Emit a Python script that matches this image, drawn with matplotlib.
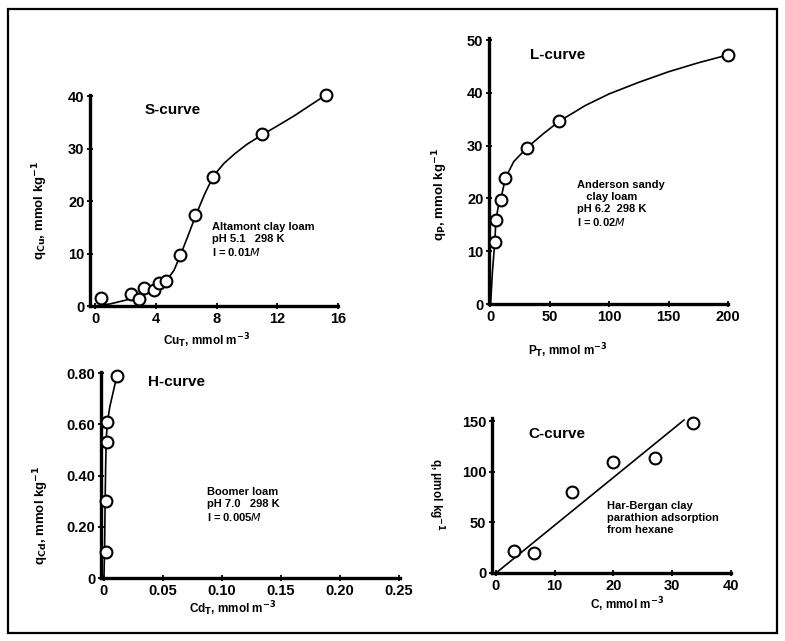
import matplotlib
matplotlib.use("Agg")
import matplotlib.pyplot as plt
from matplotlib.patches import Rectangle

plt.rcParams['font.family'] = ['Liberation Sans', 'DejaVu Sans']

# ---------------- data ----------------
# S-curve (Cu)
s_x = [0.4, 2.4, 2.9, 3.2, 3.9, 4.2, 4.7, 5.6, 6.6, 7.8, 11.0, 15.2]
s_y = [1.6, 2.2, 1.4, 3.5, 3.0, 4.3, 4.8, 9.7, 17.3, 24.6, 32.7, 40.2]
s_curve_x = [0.0, 1.0, 2.0, 3.0, 4.0, 4.7, 5.2, 5.6, 6.1, 6.6, 7.2, 7.8, 8.5, 9.2, 10.0, 11.0, 12.0, 13.1, 14.2, 15.2]
s_curve_y = [0.0, 0.4, 1.1, 2.0, 3.3, 4.8, 6.8, 9.5, 13.2, 17.0, 21.2, 24.8, 27.2, 29.0, 30.8, 32.6, 34.3, 36.2, 38.3, 40.2]

# L-curve (P)
l_x = [4, 5, 9, 13, 31, 58, 200]
l_y = [11.7, 16.0, 19.8, 23.9, 29.6, 34.6, 47.2]
l_curve_x = [0.5, 2, 4, 5, 7, 9, 13, 20, 31, 45, 58, 80, 100, 125, 150, 175, 200]
l_curve_y = [0.0, 6, 11.7, 16.0, 18.5, 19.8, 23.9, 27.0, 29.6, 32.3, 34.6, 37.6, 39.8, 42.0, 44.0, 45.7, 47.2]

# H-curve (Cd)
h_x = [0.002, 0.002, 0.003, 0.003, 0.011]
h_y = [0.10, 0.30, 0.53, 0.61, 0.79]
h_curve_x = [0.0, 0.0005, 0.001, 0.0015, 0.002, 0.003, 0.005, 0.008, 0.011]
h_curve_y = [0.0, 0.10, 0.30, 0.45, 0.55, 0.61, 0.67, 0.73, 0.79]

# C-curve (parathion)
c_x = [3.0, 6.5, 13.0, 20.0, 27.0, 33.5]
c_y = [22, 20, 80, 110, 114, 148]
c_line_x = [0.0, 32.0]
c_line_y = [0.0, 151.0]

W, H = 785, 641
fig = plt.figure(figsize=(W / 100, H / 100), dpi=100)
fig.patch.set_facecolor('white')

def px_axes(left, top, right, bottom):
    return fig.add_axes([left / W, 1 - bottom / H, (right - left) / W, (bottom - top) / H])

def ftext(x, y, s, **kw):
    fig.text(x / W, 1 - y / H, s, **kw)

def style(ax):
    for side in ['top', 'right']:
        ax.spines[side].set_visible(False)
    for side in ['left', 'bottom']:
        ax.spines[side].set_linewidth(2.4)
        ax.spines[side].set_color('black')
    ax.tick_params(direction='inout', length=5, width=1.3, labelsize=10.5, pad=1.5)
    for lab in ax.get_xticklabels() + ax.get_yticklabels():
        lab.set_fontweight('bold')
    ax.patch.set_alpha(0)

mk = dict(marker='o', markersize=8.5, markerfacecolor='white', markeredgecolor='black',
          markeredgewidth=1.5, linestyle='none', clip_on=False, zorder=5)
ln = dict(color='black', linewidth=1.2, clip_on=False)

# Panel 1: S-curve
ax1 = px_axes(90, 95, 338, 306)
ax1.plot(s_curve_x, s_curve_y, **ln)
ax1.plot(s_x, s_y, **mk)
ax1.set_xlim(-0.33, 16)
ax1.set_ylim(0, 40.2)
ax1.set_xticks([0, 4, 8, 12, 16])
ax1.set_yticks([0, 10, 20, 30, 40])
style(ax1)

# Panel 2: L-curve
ax2 = px_axes(489, 38, 728, 304)
ax2.plot(l_curve_x, l_curve_y, **ln)
ax2.plot(l_x, l_y, **mk)
ax2.set_xlim(-0.85, 200)
ax2.set_ylim(0, 50.4)
ax2.set_xticks([0, 50, 100, 150, 200])
ax2.set_yticks([0, 10, 20, 30, 40, 50])
style(ax2)

# Panel 3: H-curve
ax3 = px_axes(101, 372, 400, 578)
ax3.plot(h_curve_x, h_curve_y, **ln)
ax3.plot(h_x, h_y, **mk)
ax3.set_xlim(-0.0025, 0.251)
ax3.set_ylim(0, 0.805)
ax3.set_xticks([0, 0.05, 0.10, 0.15, 0.20, 0.25])
ax3.set_xticklabels(['0', '0.05', '0.10', '0.15', '0.20', '0.25'])
ax3.set_yticks([0, 0.2, 0.4, 0.6, 0.8])
ax3.set_yticklabels(['0', '0.20', '0.40', '0.60', '0.80'])
style(ax3)

# Panel 4: C-curve
ax4 = px_axes(492, 418, 731, 573)
ax4.plot(c_line_x, c_line_y, **ln)
ax4.plot(c_x, c_y, **mk)
ax4.set_xlim(-0.68, 39.8)
ax4.set_ylim(0, 153)
ax4.set_xticks([0, 10, 20, 30, 40])
ax4.set_yticks([0, 50, 100, 150])
style(ax4)

bold = dict(fontweight='bold', color='black')

# titles
ftext(145, 110, 'S-curve', fontsize=11, va='center', ha='left', **bold)
ftext(530, 55, 'L-curve', fontsize=11, va='center', ha='left', **bold)
ftext(148, 382, 'H-curve', fontsize=11, va='center', ha='left', **bold)
ftext(528, 434, 'C-curve', fontsize=11, va='center', ha='left', **bold)

# annotations
ftext(212, 240, 'Altamont clay loam\npH 5.1   298 K\nI = 0.01$\\it{M}$', fontsize=8,
      va='center', ha='left', linespacing=1.25, **bold)
ftext(577, 204, 'Anderson sandy\n   clay loam\npH 6.2  298 K\nI = 0.02$\\it{M}$', fontsize=8,
      va='center', ha='left', linespacing=1.2, **bold)
ftext(207, 505, 'Boomer loam\npH 7.0   298 K\nI = 0.005$\\it{M}$', fontsize=8,
      va='center', ha='left', linespacing=1.25, **bold)
ftext(607, 518, 'Har-Bergan clay\nparathion adsorption\nfrom hexane', fontsize=8,
      va='center', ha='left', linespacing=1.2, **bold)

# axis labels
ftext(207, 341, 'Cu$_\\mathbf{T}$, mmol m$^\\mathbf{-3}$', fontsize=8.5, ha='center', va='center', **bold)
ftext(568, 351, 'P$_\\mathbf{T}$, mmol m$^\\mathbf{-3}$', fontsize=8.5, ha='center', va='center', **bold)
ftext(233, 609, 'Cd$_\\mathbf{T}$, mmol m$^\\mathbf{-3}$', fontsize=8.5, ha='center', va='center', **bold)
ftext(627, 605, 'C, mmol m$^\\mathbf{-3}$', fontsize=8.5, ha='center', va='center', **bold)

ftext(40, 210, 'q$_\\mathbf{Cu}$, mmol kg$^\\mathbf{-1}$', fontsize=9.5, rotation=90, ha='center', va='center', **bold)
ftext(440, 195, 'q$_\\mathbf{P}$, mmol kg$^\\mathbf{-1}$', fontsize=9.5, rotation=90, ha='center', va='center', **bold)
ftext(41, 515, 'q$_\\mathbf{Cd}$, mmol kg$^\\mathbf{-1}$', fontsize=9.5, rotation=90, ha='center', va='center', **bold)
ftext(436, 495, 'q, μmol kg$^\\mathbf{-1}$', fontsize=8.5, rotation=270, ha='center', va='center', **bold)

# outer frame
fig.patches.append(Rectangle((8 / W, 1 - 633 / H), (777 - 8) / W, (633 - 9) / H,
                             transform=fig.transFigure, fill=False, edgecolor='black',
                             linewidth=1.6))

fig.savefig('out.png', dpi=100, facecolor='white')
